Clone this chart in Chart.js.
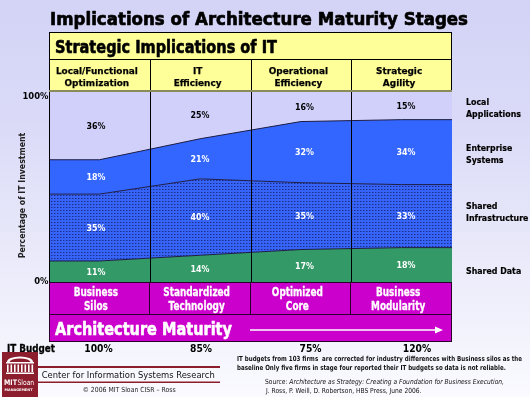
<!DOCTYPE html>
<html><head><meta charset="utf-8">
<script src="https://cdn.jsdelivr.net/npm/chart.js@4/dist/chart.umd.min.js"></script>
<style>html,body{margin:0;padding:0;background:#fff;}canvas{display:block;}</style>
</head><body>
<canvas id="c" width="530" height="397"></canvas>
<script>
// ---- data ----
const stageLines = [['Business','Silos'],['Standardized','Technology'],['Optimized','Core'],['Business','Modularity']];
const implications = [['Local/Functional','Optimization'],['IT','Efficiency'],['Operational','Efficiency'],['Strategic','Agility']];
const sharedData = [11,14,17,18];
const sharedInfrastructure = [35,40,35,33];
const enterpriseSystems = [18,21,32,34];
const localApplications = [36,25,16,15];
const seriesValues = [sharedData, sharedInfrastructure, enterpriseSystems, localApplications];
const seriesNames = [['Shared Data'],['Shared','Infrastructure'],['Enterprise','Systems'],['Local','Applications']];
const itBudget = [100,85,75,120];
const yTicks = [0,100];

// ---- layout constants (text placement only) ----
const pctLabelX = [96,200,304.5,406];
const budgetX = [98.5,201,310.5,417];
const rightLabelBase = [[274],[209,220.5],[151,163],[105,116.5]];

function T(ctx, s, x, y, size, o){
  o = o || {};
  ctx.save();
  ctx.font = (o.italic?'italic ':'') + (o.weight||'bold') + ' ' + size + 'px ' + (o.family||'"DejaVu Sans"');
  ctx.fillStyle = o.color || '#000';
  ctx.textBaseline = 'alphabetic';
  ctx.textAlign = 'left';
  const w = ctx.measureText(s).width;
  const sx = o.w ? o.w / w : (o.sx || 1);
  const a = o.align || 'left';
  const left = a==='center' ? x - w*sx/2 : a==='right' ? x - w*sx : x;
  ctx.translate(left, y); ctx.scale(sx,1); ctx.fillText(s,0,0);
  if (o.heavy){ ctx.strokeStyle = o.color || '#000'; ctx.lineWidth = o.heavy; ctx.lineJoin='round'; ctx.strokeText(s,0,0); }
  ctx.restore();
  return w*sx;
}
function scaleFor(ctx, s, size, target, weight, family){
  ctx.save();
  ctx.font = (weight||'bold')+' '+size+'px '+(family||'"DejaVu Sans"');
  const w = ctx.measureText(s).width; ctx.restore();
  return target / w;
}

// pattern for shared infrastructure
function makePattern(){
  const p = document.createElement('canvas'); p.width = 3; p.height = 3;
  const g = p.getContext('2d');
  g.fillStyle = '#3663f8'; g.fillRect(0,0,3,3);
  g.fillStyle = '#1c2d86'; g.fillRect(0,0,1,1);
  g.fillStyle = '#2a4cc4'; g.fillRect(1,0,1,1);
  return document.getElementById('c').getContext('2d').createPattern(p,'repeat');
}

function toPoints(vals){
  const pts = [{x:0, y:vals[0]}];
  vals.forEach((v,i)=>pts.push({x:i+0.5, y:v}));
  pts.push({x:vals.length, y:vals[vals.length-1]});
  return pts;
}

const lineCol = '#1c1c44';
const datasets = [
  {label:'Shared Data', data:toPoints(sharedData), backgroundColor:'#339966', borderColor:lineCol, borderWidth:1, fill:'origin'},
  {label:'Shared Infrastructure', data:toPoints(sharedInfrastructure), backgroundColor:makePattern(), borderColor:lineCol, borderWidth:1, fill:'-1'},
  {label:'Enterprise Systems', data:toPoints(enterpriseSystems), backgroundColor:'#3366ff', borderColor:lineCol, borderWidth:1, fill:'-1'},
  {label:'Local Applications', data:toPoints(localApplications), backgroundColor:'#d0d0fa', borderColor:'rgba(0,0,0,0)', borderWidth:0, fill:'-1'}
];

const deco = {
  id:'deco',
  beforeDraw(chart){
    const ctx = chart.ctx, W = chart.width, H = chart.height;
    const ca = chart.chartArea;
    ctx.save();
    const g = ctx.createLinearGradient(0,0,0,H);
    g.addColorStop(0,'#d3d3f6'); g.addColorStop(0.3,'#dadaf8'); g.addColorStop(0.65,'#eaeafa'); g.addColorStop(1,'#fafaff');
    ctx.fillStyle = g; ctx.fillRect(0,0,W,H);
    ctx.fillStyle = '#ffff99'; ctx.fillRect(ca.left, 32, ca.right-ca.left, ca.top-32);
    ctx.restore();
  },
  afterDatasetsDraw(chart){
    const ctx = chart.ctx, ca = chart.chartArea, xs = chart.scales.x, ys = chart.scales.y;
    ctx.save();
    ctx.strokeStyle = '#000'; ctx.lineWidth = 1;
    for (let i=1;i<stageLines.length;i++){
      const x = Math.round(xs.getPixelForValue(i))+0.5;
      ctx.beginPath(); ctx.moveTo(x,59); ctx.lineTo(x,ca.bottom); ctx.stroke();
    }
    ctx.beginPath(); ctx.moveTo(ca.left+0.5,32); ctx.lineTo(ca.left+0.5,342); ctx.stroke();
    ctx.beginPath(); ctx.moveTo(ca.right-0.5,32); ctx.lineTo(ca.right-0.5,ca.top); ctx.stroke();
    ctx.beginPath(); ctx.moveTo(ca.left,32.5); ctx.lineTo(ca.right,32.5); ctx.stroke();
    ctx.beginPath(); ctx.moveTo(ca.left,59.5); ctx.lineTo(ca.right,59.5); ctx.stroke();
    ctx.strokeStyle = '#8a8a5a'; ctx.lineWidth = 2;
    ctx.beginPath(); ctx.moveTo(ca.left,ca.top); ctx.lineTo(ca.right,ca.top); ctx.stroke();
    const sx = scaleFor(ctx,'36%',9,19);
    for (let i=0;i<4;i++){
      let base = 0;
      seriesValues.forEach((vals,k)=>{
        const v = vals[i];
        const yMid = ys.getPixelForValue(base + v/2);
        base += v;
        T(ctx, v+'%', pctLabelX[i], yMid+3.3, 9, {align:'center', sx:sx, color: k===3?'#000':'#fff'});
      });
    }
    ctx.restore();
  },
  afterDraw(chart){
    const ctx = chart.ctx, ca = chart.chartArea, xs = chart.scales.x, ys = chart.scales.y;
    ctx.save();
    T(ctx,'Implications of Architecture Maturity Stages',50,25,18,{w:418, heavy:0.7});
    T(ctx,'Strategic Implications of IT',55,53,17,{w:222, heavy:0.6});
    const hsx = scaleFor(ctx,'Local/Functional',9.5,82);
    implications.forEach((ln,i)=>{
      const cx = xs.getPixelForValue(i+0.5) - 2.5;
      T(ctx, ln[0], cx, 73.5, 9.5, {align:'center', sx:hsx, heavy:0.25});
      T(ctx, ln[1], cx, 85.5, 9.5, {align:'center', sx:hsx, heavy:0.25});
    });
    ctx.fillStyle = '#cc00cc';
    ctx.fillRect(ca.left, ca.bottom, ca.right-ca.left, 342-ca.bottom);
    ctx.strokeStyle = '#2a002a'; ctx.lineWidth = 1;
    ctx.strokeRect(ca.left+0.5, ca.bottom+0.5, ca.right-ca.left-1, 342-ca.bottom-1);
    ctx.beginPath(); ctx.moveTo(ca.left,314.5); ctx.lineTo(ca.right,314.5); ctx.stroke();
    for (let i=1;i<stageLines.length;i++){
      const x = Math.round(xs.getPixelForValue(i))-0.5;
      ctx.beginPath(); ctx.moveTo(x,ca.bottom); ctx.lineTo(x,314.5); ctx.stroke();
    }
    const ssx = scaleFor(ctx,'Standardized',11.5,66.7);
    stageLines.forEach((ln,i)=>{
      const cx = xs.getPixelForValue(i+0.5) - 3.5;
      T(ctx, ln[0], cx, 295.5, 11.5, {align:'center', sx:ssx, color:'#fff', heavy:0.3});
      T(ctx, ln[1], cx, 309.5, 11.5, {align:'center', sx:ssx, color:'#fff', heavy:0.3});
    });
    T(ctx,'Architecture Maturity',55,335,18,{w:177,color:'#fff', heavy:0.6});
    ctx.strokeStyle = '#fff'; ctx.fillStyle = '#fff'; ctx.lineWidth = 1.5;
    ctx.beginPath(); ctx.moveTo(250,330); ctx.lineTo(437,330); ctx.stroke();
    ctx.beginPath(); ctx.moveTo(443,330); ctx.lineTo(435,326.5); ctx.lineTo(435,333.5); ctx.closePath(); ctx.fill();
    const ysx = scaleFor(ctx,'100%',8,26);
    yTicks.forEach(t=>{
      const y = ys.getPixelForValue(t) + (t===100 ? 8 : 2);
      T(ctx, t+'%', 48.5, y, 8, {align:'right', sx:ysx});
    });
    ctx.save();
    ctx.translate(24.5, (ys.getPixelForValue(0)+ys.getPixelForValue(100))/2 + 9);
    ctx.rotate(-Math.PI/2);
    T(ctx,'Percentage of IT Investment',0,0,8.5,{align:'center', w:125.6, color:'#222'});
    ctx.restore();
    const rsx = scaleFor(ctx,'Applications',9,55);
    seriesNames.forEach((ln,k)=>{
      ln.forEach((s,j)=>T(ctx, s, 466, rightLabelBase[k][j], 9, {sx:rsx, heavy:0.2}));
    });
    T(ctx,'IT Budget',7,351.5,11,{w:48, heavy:0.3});
    const bsx = scaleFor(ctx,'100%',11,28.4,'600');
    itBudget.forEach((b,i)=>T(ctx, b+'%', budgetX[i], 351.5, 11, {align:'center', sx:bsx, weight:'600'}));
    const fsx = scaleFor(ctx,'IT budgets from 103 firms  are corrected for industry differences with Business silos as the',7,285);
    T(ctx,'IT budgets from 103 firms  are corrected for industry differences with Business silos as the',237,361,7,{sx:fsx,color:'#111'});
    T(ctx,'baseline Only five firms in stage four reported their IT budgets so data is not reliable.',237,370,7,{sx:fsx,color:'#111'});
    const srcA = 'Source: ', srcB = 'Architecture as Strategy: Creating a Foundation for Business Execution,';
    ctx.font = 'normal 7px "DejaVu Sans"'; const wa = ctx.measureText(srcA).width;
    ctx.font = 'italic normal 7px "DejaVu Sans"'; const wb = ctx.measureText(srcB).width;
    const ssx2 = 239/(wa+wb);
    const wA = T(ctx,srcA,265,384,7,{weight:'normal',sx:ssx2,color:'#111'});
    T(ctx,srcB,265+wA,384,7,{weight:'normal',italic:true,sx:ssx2,color:'#111'});
    T(ctx,'J. Ross, P. Weill, D. Robertson, HBS Press, June 2006.',266,392.5,7,{weight:'normal',sx:ssx2,color:'#111'});
    ctx.fillStyle = '#8c1d2c';
    ctx.fillRect(38,366,182,2);
    ctx.fillRect(38,381.5,182,1.5);
    T(ctx,'Center for Information Systems Research',41.7,378,9.5,{weight:'normal',w:173,color:'#111'});
    T(ctx,'\u00a9 2006 MIT Sloan CISR \u2013 Ross',82.7,391.5,7,{weight:'normal',w:93,color:'#222'});
    ctx.fillStyle = '#8c1d2c'; ctx.fillRect(2,352,36,45);
    ctx.fillStyle = '#fff';
    ctx.beginPath(); ctx.ellipse(20,362,13,5.5,0,Math.PI,2*Math.PI); ctx.fill();
    ctx.fillStyle = '#8c1d2c';
    ctx.beginPath(); ctx.ellipse(20,362,10.5,3.5,0,Math.PI,2*Math.PI); ctx.fill();
    ctx.fillStyle = '#fff';
    ctx.fillRect(6,362,28,1.5);
    for (let c=0;c<8;c++) ctx.fillRect(7+c*3.5,364.5,1.6,7.5);
    ctx.fillRect(6,372.5,28,1.5);
    T(ctx,'MIT',4,384.5,7.5,{color:'#fff',sx:0.85});
    T(ctx,'Sloan',17.5,384.5,7.5,{weight:'normal',color:'#fff',sx:0.8});
    T(ctx,'MANAGEMENT',4.5,390.5,3.6,{color:'#fff',w:28});
    ctx.restore();
  }
};

new Chart(document.getElementById('c'), {
  type:'line',
  data:{datasets},
  options:{
    responsive:false, animation:false, devicePixelRatio:1,
    layout:{padding:{left:49, right:78, top:91, bottom:115}},
    scales:{
      x:{type:'linear', min:0, max:4, display:false},
      y:{stacked:true, min:0, max:100, display:false}
    },
    elements:{point:{radius:0}, line:{tension:0}},
    plugins:{legend:{display:false}, tooltip:{enabled:false}, title:{display:false}}
  },
  plugins:[deco]
});
</script>
</body></html>
